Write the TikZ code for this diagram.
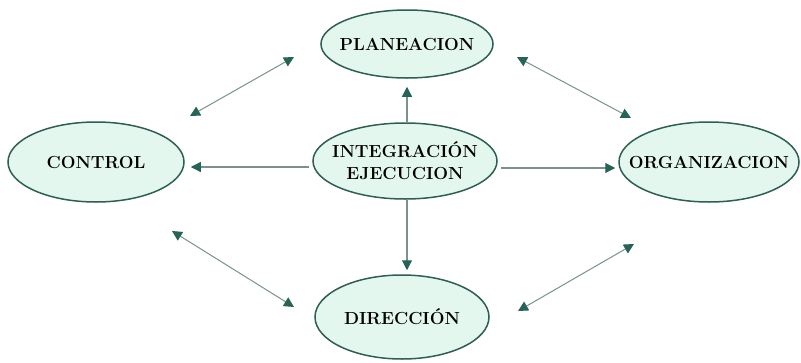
\documentclass[tikz,border=0pt]{standalone}
\usepackage{fontspec}
\usetikzlibrary{shapes.geometric,arrows.meta}
\definecolor{mintfill}{HTML}{E4F7EF}
\definecolor{edgeteal}{HTML}{2F5E55}
\definecolor{linegray}{HTML}{7A918C}
\definecolor{tipteal}{HTML}{276457}
\tikzset{
  stage/.style={ellipse, draw=edgeteal, line width=1.5pt, fill=mintfill, inner sep=0pt},
  stagetext/.style={font=\fontsize{17.5}{22}\selectfont\bfseries, align=center, inner sep=0pt},
  link/.style={draw=linegray, line width=1.1pt,
    -{Triangle[length=10pt,width=10pt,color=tipteal]}},
  duallink/.style={draw=linegray, line width=1pt,
    {Triangle[length=10pt,width=10pt,color=tipteal]}-{Triangle[length=10pt,width=10pt,color=tipteal]}}
}
\begin{document}
\begin{tikzpicture}[x=1pt,y=-1pt]
\useasboundingbox (0,0) rectangle (801,362);
\node[stage, minimum width=172pt, minimum height=68pt,
  label={[stagetext]center:PLANEACION}] (plan) at (407,44) {};
\node[stage, minimum width=184pt, minimum height=76pt,
  label={[stagetext]center:INTEGRACIÓN\\EJECUCION}] (integ) at (405,161) {};
\node[stage, minimum width=176pt, minimum height=80pt,
  label={[stagetext]center:CONTROL}] (control) at (96,162) {};
\node[stage, minimum width=180pt, minimum height=80pt,
  label={[stagetext]center:ORGANIZACION}] (org) at (709,162) {};
\node[stage, minimum width=174pt, minimum height=84pt,
  label={[stagetext]center:DIRECCIÓN}] (dir) at (402,317) {};
% free-end coordinates
\coordinate (cpA) at (190,116);
\coordinate (cpB) at (294,57);
\coordinate (poA) at (517,57);
\coordinate (poB) at (631,118);
\coordinate (cdA) at (172,231);
\coordinate (cdB) at (294,307);
\coordinate (odA) at (634,244);
\coordinate (odB) at (518,311);
% central arrows
\draw[link] ([xshift=2pt]integ.north) -- ([xshift=2pt,yshift=-8pt]integ.north |- plan.south);
\draw[link] ([xshift=-3pt,yshift=-6pt]integ.west) -- ([xshift=6pt,yshift=-6pt]integ.west -| control.east);
\draw[link] ([xshift=3pt,yshift=-7pt]integ.east) -- ([xshift=-3pt,yshift=-7pt]integ.east -| org.west);
\draw[link] ([xshift=2pt]integ.south) -- ([xshift=2pt,yshift=4pt]integ.south |- dir.north);
% double arrows
\draw[duallink] (cpA) -- (cpB);
\draw[duallink] (poA) -- (poB);
\draw[duallink] (cdA) -- (cdB);
\draw[duallink] (odA) -- (odB);
\end{tikzpicture}
\end{document}
